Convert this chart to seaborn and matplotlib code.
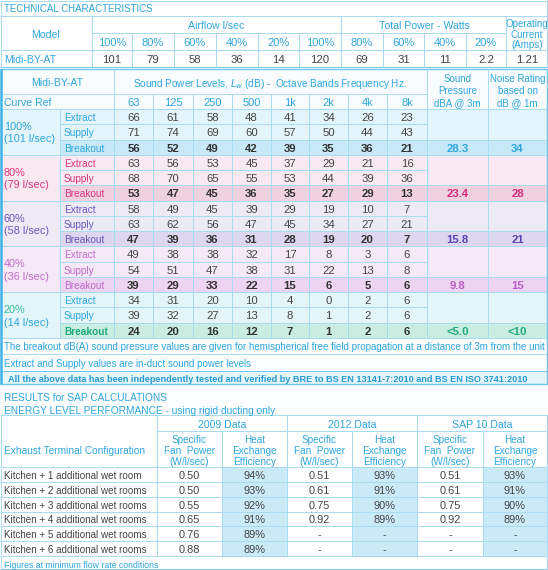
import matplotlib
matplotlib.use("Agg")
import matplotlib.pyplot as plt
import seaborn as sns
from matplotlib.patches import Rectangle

# ---- data ----
top_pcts = ["100%", "80%", "60%", "40%", "20%"]
airflow = ["101", "79", "58", "36", "14"]
power = ["120", "69", "31", "11", "2.2"]
current = "1.21"

bands = ["63", "125", "250", "500", "1k", "2k", "4k", "8k"]
curve_pct = ["100%", "80%", "60%", "40%", "20%"]
curve_flow = ["(101 l/sec)", "(79 l/sec)", "(58 l/sec)", "(36 l/sec)", "(14 l/sec)"]
extract = [[66, 61, 58, 48, 41, 34, 26, 23],
           [63, 56, 53, 45, 37, 29, 21, 16],
           [58, 49, 45, 39, 29, 19, 10, 7],
           [49, 38, 38, 32, 17, 8, 3, 6],
           [34, 31, 20, 10, 4, 0, 2, 6]]
supply = [[71, 74, 69, 60, 57, 50, 44, 43],
          [68, 70, 65, 55, 53, 44, 39, 36],
          [63, 62, 56, 47, 45, 34, 27, 21],
          [54, 51, 47, 38, 31, 22, 13, 8],
          [39, 32, 27, 13, 8, 1, 2, 6]]
breakout = [[56, 52, 49, 42, 39, 35, 36, 21],
            [53, 47, 45, 36, 35, 27, 29, 13],
            [47, 39, 36, 31, 28, 19, 20, 7],
            [39, 29, 33, 22, 15, 6, 5, 6],
            [24, 20, 16, 12, 7, 1, 2, 6]]
sound_pressure = ["28.3", "23.4", "15.8", "9.8", "<5.0"]
noise_rating = ["34", "28", "21", "15", "<10"]

notes = ["The breakout dB(A) sound pressure values are given for hemispherical free field propagation at a distance of 3m from the unit",
         "Extract and Supply values are in-duct sound power levels"]
verified = "All the above data has been independently tested and verified by BRE to BS EN 13141-7:2010 and BS EN ISO 3741:2010"

configs = ["Kitchen + 1 additional wet room", "Kitchen + 2 additional wet rooms",
           "Kitchen + 3 additional wet rooms", "Kitchen + 4 additional wet rooms",
           "Kitchen + 5 additional wet rooms", "Kitchen + 6 additional wet rooms"]
sfp_2009 = ["0.50", "0.50", "0.55", "0.65", "0.76", "0.88"]
hee_2009 = ["94%", "93%", "92%", "91%", "89%", "89%"]
sfp_2012 = ["0.51", "0.61", "0.75", "0.92", "-", "-"]
hee_2012 = ["93%", "91%", "90%", "89%", "-", "-"]
sfp_sap10 = ["0.51", "0.61", "0.75", "0.92", "-", "-"]
hee_sap10 = ["93%", "91%", "90%", "89%", "-", "-"]
data_sets = ["2009 Data", "2012 Data", "SAP 10 Data"]

# ---- style ----
sns.set_theme(style="white")
plt.rcParams['font.family'] = ['Liberation Sans', 'DejaVu Sans']

CYAN = "#2ea6dc"
DARK = "#444444"
GRID = "#a6dcf1"
EDGE = "#6ec7ec"
NUM = 8.2
# bg, breakout bg, label colour, percent colour, breakout label colour
block_style = [("#e3f4fb", "#c8eaf8", "#2ea6dc", "#2ea6dc", "#2ea6dc"),
               ("#f8e9f0", "#f0d1e0", "#d9377f", "#d9377f", "#d42b78"),
               ("#edeaf6", "#ddd6ef", "#6b55bf", "#6b55bf", "#5b45b5"),
               ("#f6e9f7", "#edd4f0", "#c06bcb", "#c06bcb", "#b95cc7"),
               ("#e4f5fa", "#caede1", "#2ea6dc", "#35bf98", "#1fa97c")]

fig = plt.figure(figsize=(5.48, 5.70), dpi=100, facecolor="#fbfdfe")
ax = fig.add_axes([0, 0, 1, 1])
ax.set_xlim(0, 548)
ax.set_ylim(570, 0)
ax.axis("off")


def rect(x0, y0, x1, y1, color):
    ax.add_patch(Rectangle((x0, y0), x1 - x0, y1 - y0, facecolor=color, edgecolor="none", zorder=1))


def hl(y, x0=0, x1=548, c=GRID, lw=0.7):
    ax.plot([x0, x1], [y, y], color=c, lw=lw, zorder=2, solid_capstyle="butt")


def vl(x, y0, y1, c=GRID, lw=0.7):
    ax.plot([x, x], [y0, y1], color=c, lw=lw, zorder=2, solid_capstyle="butt")


def tx(x, y, s, c=DARK, size=7, ha="center", bold=False):
    ax.text(x, y, s, color=c, fontsize=size, ha=ha, va="center_baseline",
            fontweight="bold" if bold else "normal", zorder=3)


# ---- technical characteristics ----
rect(0, 0, 548, 67, "white")
tx(4, 8, "TECHNICAL CHARACTERISTICS", CYAN, 7.0, ha="left")
top_x = [92, 132, 174, 216, 258, 299, 341, 383, 424, 466, 506, 547]
hl(0.5, c=GRID)
hl(16)
hl(33, 92, 506)
hl(50)
hl(67, c=EDGE)
vl(0.6, 0, 67)
vl(547, 0, 67)
for x in top_x[:-1]:
    vl(x, 33 if x not in (92, 341, 506) else 16, 67)
tx(46, 34, "Model", CYAN, 7.6)
tx(216, 25, "Airflow l/sec", CYAN, 7.6)
tx(424, 25, "Total Power - Watts", CYAN, 7.6)
for i, lab in enumerate(["Operating", "Current", "(Amps)"]):
    tx(527, 23 + i * 10.5, lab, CYAN, 7.0)
for i in range(5):
    tx((top_x[i] + top_x[i + 1]) / 2, 42, top_pcts[i], CYAN, 8.0)
    tx((top_x[i + 5] + top_x[i + 6]) / 2, 42, top_pcts[i], CYAN, 8.0)
    tx((top_x[i] + top_x[i + 1]) / 2, 59, airflow[i], DARK, NUM)
    tx((top_x[i + 5] + top_x[i + 6]) / 2, 59, power[i], DARK, NUM)
tx(4, 59, "Midi-BY-AT", CYAN, 7.6, ha="left")
tx(527, 59, current, DARK, NUM)

# ---- sound table ----
band_x = [114, 153, 193, 232, 271, 309, 348, 387, 427]
col_sp, col_nr, right = 427, 488, 547
head_top, head_mid, head_bot = 69, 94, 109
row_h = 15.25

rect(0, head_top, 548, head_bot, "#f8fcfe")
tx(57, 82, "Midi-BY-AT", CYAN, 7.6)
tx(270, 82, r"Sound Power Levels, $L_w$ (dB) -  Octave Bands Frequency Hz.", CYAN, 7.2)
tx(4, 102, "Curve Ref", CYAN, 7.6, ha="left")
for i, b in enumerate(bands):
    tx((band_x[i] + band_x[i + 1]) / 2, 102, b, CYAN, 8.0)
for i, lab in enumerate(["Sound", "Pressure", "dBA @ 3m"]):
    tx((col_sp + col_nr) / 2, 78 + i * 12.3, lab, CYAN, 7.0)
for i, lab in enumerate(["Noise Rating", "based on", "dB @ 1m"]):
    tx((col_nr + right) / 2, 78 + i * 12.3, lab, CYAN, 7.0)

for b in range(5):
    bg, bo_bg, lab_c, pct_c, bo_c = block_style[b]
    top = head_bot + b * 3 * row_h
    rect(0, top, 548, top + 3 * row_h, bg)
    rect(60, top + 2 * row_h, 548, top + 3 * row_h, bo_bg)
    tx(4, top + 17, curve_pct[b], pct_c, 7.8, ha="left")
    tx(4, top + 29.5, curve_flow[b], lab_c, 7.8, ha="left")
    rows = [("Extract", extract[b]), ("Supply", supply[b]), ("Breakout", breakout[b])]
    for r, (name, vals) in enumerate(rows):
        yc = top + r * row_h + row_h / 2 + 0.5
        is_bo = name == "Breakout"
        tx(64, yc, name, bo_c if is_bo and b == 4 else lab_c, 7.3, ha="left", bold=(is_bo and b == 4))
        for i, v in enumerate(vals):
            tx((band_x[i] + band_x[i + 1]) / 2, yc, str(v), "#333333" if is_bo else DARK, NUM, bold=is_bo)
        if r < 2:
            hl(top + (r + 1) * row_h, 60, col_sp)
    yc = top + 2.5 * row_h + 0.5
    tx((col_sp + col_nr) / 2, yc, sound_pressure[b], bo_c, NUM, bold=True)
    tx((col_nr + right) / 2, yc, noise_rating[b], bo_c, NUM, bold=True)
    hl(top + 2 * row_h, col_sp, right)
    hl(top + 3 * row_h)
    vl(60, top, top + 3 * row_h)

body_bot = head_bot + 15 * row_h
hl(head_top, c=EDGE, lw=1.0)
hl(head_mid, 0, col_sp)
hl(head_bot)
vl(114, head_top, head_bot)
for x in band_x[1:-1]:
    vl(x, head_mid, body_bot)
vl(114, head_bot, body_bot)
vl(col_sp, head_top, body_bot)
vl(col_nr, head_top, body_bot)

# notes
note_y = [body_bot, body_bot + 16.5, body_bot + 33]
tx(4, note_y[0] + 8.5, notes[0], CYAN, 7.0, ha="left")
hl(note_y[1])
tx(4, note_y[1] + 8.5, notes[1], CYAN, 7.0, ha="left")
rect(1, note_y[2], 547, 384, "#e6f5fb")
hl(note_y[2], c=EDGE)
tx(8, note_y[2] + 7.5, verified, "#259bd0", 6.55, ha="left", bold=True)
hl(384, c=EDGE, lw=1.0)
vl(1.2, head_top, 384, c="#3fb3e6", lw=1.8)
vl(547, head_top, 384, c=EDGE, lw=1.0)

# ---- SAP results ----
tx(4, 397, "RESULTS for SAP CALCULATIONS", CYAN, 7.3, ha="left")
tx(4, 410, "ENERGY LEVEL PERFORMANCE - using rigid ducting only", CYAN, 7.3, ha="left")
sap_x = [157, 222, 287, 352, 417, 483, 547]
sap_top, sap_mid, sap_head = 415, 431, 467
sap_row = 14.85
sap_bot = sap_head + 6 * sap_row
rect(0, sap_top, 548, 570, "white")
for j in (1, 3, 5):
    rect(sap_x[j], sap_head, sap_x[j + 1], sap_bot, "#cbeaf8")
hl(sap_top)
hl(sap_mid, sap_x[0], right)
hl(sap_head)
for k, name in enumerate(data_sets):
    tx((sap_x[2 * k] + sap_x[2 * k + 2]) / 2, 423.5, name, CYAN, 7.6)
for x in sap_x[0::2]:
    vl(x, sap_top, sap_bot)
for x in sap_x[1::2]:
    vl(x, sap_mid, sap_bot)
tx(4, 450, "Exhaust Terminal Configuration", CYAN, 7.3, ha="left")
for j in range(6):
    labs = ["Specific", "Fan  Power", "(W/l/sec)"] if j % 2 == 0 else ["Heat", "Exchange", "Efficiency"]
    for i, lab in enumerate(labs):
        tx((sap_x[j] + sap_x[j + 1]) / 2, 439 + i * 11, lab, CYAN, 7.2)
cols = [sfp_2009, hee_2009, sfp_2012, hee_2012, sfp_sap10, hee_sap10]
for r, name in enumerate(configs):
    yc = sap_head + r * sap_row + sap_row / 2 + 0.5
    tx(4, yc, name, DARK, 7.1, ha="left")
    for j, col in enumerate(cols):
        tx((sap_x[j] + sap_x[j + 1]) / 2, yc, col[r], DARK, 7.9)
    hl(sap_head + (r + 1) * sap_row)
tx(4, 564, "Figures at minimum flow rate conditions", CYAN, 6.3, ha="left")
hl(569.3, c=EDGE)
vl(0.6, sap_top, 570)
vl(547, sap_top, 570)

fig.savefig("out.png", dpi=100, facecolor=fig.get_facecolor())
